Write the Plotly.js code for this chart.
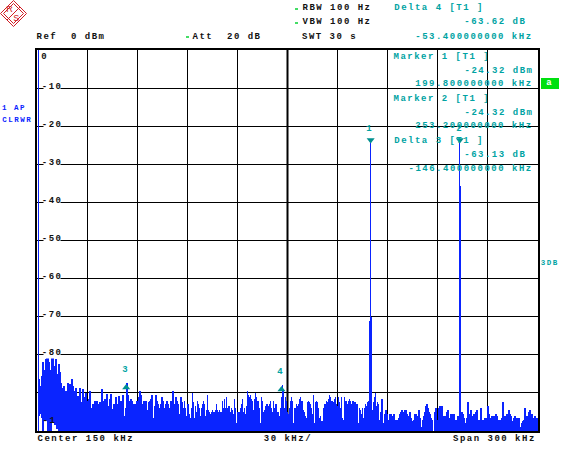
<!DOCTYPE html>
<html><head><meta charset="utf-8">
<script src="https://cdn.plot.ly/plotly-3.0.1.min.js"></script>
<style>
html,body{margin:0;padding:0;background:#fff}
.annotation text{letter-spacing:1.5px}
.bars path{shape-rendering:crispEdges}
</style></head><body><div id="chart" style="width:566px;height:451px"></div>
<script>
const sweepA=[0,-86.4,-89,-88.2,-85.5,-82,-84,-85,-81,-79.5,-79.5,-82,-84,-84,-80,-80.5,-83,-83.5,-81,-85,-87.3,-82.5,-84.5,-87.3,-88.6,-89.5,-88.2,-89.9,-89.5,-90.8,-87.3,-89.9,-87.7,-90.8,-86.4,-88.2,-89.5,-90.8,-88.6,-91.2,-90.8,-92.1,-88.6,-92.5,-93.9,-89,-91.2,-95.2,-89.9,-95.2,-92.1,-91.7,-89.5,-93.9,-95.6,-93,-93.4,-92.1,-93.4,-92.1,-93,-93.4,-92.5,-93,-89,-92.1,-93.9,-91.7,-94.3,-90.4,-93.4,-93.9,-91.7,-90.4,-94.3,-95.2,-93,-93,-91.2,-93,-93,-90.8,-93,-92.1];
const sweepB=[-93,-90.5,-96,-97.5,-94,-87.5,-90.5,-92,-94,-91.5,-92,-93.5,-93,-94,-93,-92,-92,-91,-89.5,-90.5,-93,-94,-92,-92,-92,-94.5,-96,-92.5,-92,-91.5,-90.5,-96.5,-97,-93.5,-90.5,-92,-93,-94,-94,-93,-91,-92,-94,-95,-93,-92,-93,-94,-94,-92,-92,-89.5,-93,-96.5,-91,-92,-93,-95.5,-97,-91,-92.5,-94,-92,-94,-96,-93,-93,-95.5,-96.5,-94,-90,-92.5,-96.5,-93.5,-95,-92,-93,-94,-96,-94,-93,-92,-93,-96];
const sweepC=[-94.5,-90.5,-94.5,-95,-95.5,-95,-94.5,-95,-95,-94.5,-93,-94.5,-95,-94.5,-95,-95,-92,-94,-91.5,-94,-91,-94,-93.5,-93.5,-95,-94,-94.5,-95.5,-91.5,-94,-98,-95,-95,-95,-94,-93,-91.5,-95,-94,-95.5,-93.5,-89.5,-90.5,-91,-90.5,-91.5,-92,-94.5,-91.5,-90,-91,-92,-92,-94,-98,-91,-92,-95,-94.5,-93.5,-93,-93,-93.5,-93,-92,-94,-95,-92,-94,-93,-93,-95,-95,-96,-94,-91,-88,-89.5,-94,-91,-92,-95,-95.5,-94,-92];
const sweepD=[-91,-92,-98,-94,-94,-93,-93.5,-93,-91.5,-91,-92,-92,-94.5,-95,-96,-96.5,-92.5,-92,-92.5,-93,-94,-95.5,-90.5,-98,-92.5,-92,-92.5,-94,-96.5,-96,-97.5,-97.5,-94,-93,-93,-92,-92.5,-91.5,-90.5,-91,-92,-92,-92.5,-91.5,-91,-93,-93.5,-91,-92.5,-94,-91,-96.5,-97,-91,-92,-92,-93,-92,-91.5,-92,-93,-92,-92,-92.5,-92.5,-93,-93,-98,-94,-94.5,-95.5,-94,-96.5,-94,-93,-93.5,-92.5,-92,-95,-94,-92.5,-94.5,-92.5,-91,-90];
const sweepE=[-93.5,-92.5,-93,-97,-95,-91.5,-91.5,-98,-95.5,-94.5,-94.5,-95.5,-97,-95.5,-95.5,-97,-96,-95.5,-97,-98,-97,-97,-96.5,-95.5,-95,-94.5,-95,-95.5,-94.5,-94.5,-95.5,-96,-96.5,-95,-96.5,-97.5,-99,-97,-95.5,-95.5,-96,-99,-94.5,-96.5,-99,-100,-97,-96,-95,-93.5,-93,-94,-95,-95.5,-96.5,-97,-100,-100,-95,-94,-97,-97,-94,-93.5,-97.5,-93.5,-96,-96.5,-96,-96.5,-95,-94.5,-97,-96.5,-95.5,-96,-95.5,-95.5,-97.5,-97,-97,-96,-96.5,-96,-97];
const sweepF=[-95,-95.5,-96.5,-99,-98,-96.5,-92.5,-95.5,-96.5,-94.5,-96,-96,-95.5,-95.5,-95,-94.5,-97,-99,-97,-94,-97,-97,-100,-96.5,-96.5,-97,-93.5,-95.5,-96.5,-97,-96,-97.5,-96,-96.5,-95.5,-96,-97.5,-97,-97,-100,-96.5,-92.5,-96.5,-96,-96,-95.5,-98,-94.5,-95.5,-96,-98,-97.5,-96.5,-96,-100,-96.5,-98,-96.5,-99,-100,-98,-97.5,-97,-94,-96,-97.5,-96,-95,-94.5,-95.5,-95.5,-99,-96.5,-96,-96.5,-96.5,-98,-99];
const sweepFloorHead=[-100,-96,-95.6,-95.6,-96.5,-100,-97.5,-97,-97,-97.5,-100,-98,-100,-100,-98,-98,-98,-98.5,-98.5,-99.5,-99.5];

const carrierFreq=[198.9,199.5,200.1,253.2,253.8];
const carrierTop=[-71,-24.32,-70,-24.32,-35.7];
const carrierFloor=[-100,-95.8,-100,-100,-100];

const markerDownFreq=[199.8,253.2];
const markerDownDb=[-23.6,-23.6];
const markerUpFreq=[53.4,146.4];
const markerUpDb=[-88.6,-89.1];

const yTickLabels=["0","-10","-20","-30","-40","-50","-60","-70","-80"];

const TEAL="#00a3a3", BLUE="#0a24ff", DARK="#111111";
const sweep=[].concat(sweepA,sweepB,sweepC,sweepD,sweepE,sweepF);
const floor=sweep.map((v,i)=>i<sweepFloorHead.length?sweepFloorHead[i]:-100);

const L=37,R=538,T=50,B=431;
const px=x=>(x-L)/(R-L), py=y=>(B-y)/(B-T);
const label=(text,x,y,color,size,advance)=>{
  const s=size||9, a=advance||6.9;
  return {text:text.replace(/ /g,"\u00a0"),xref:"paper",yref:"paper",x:px(x+text.length*a/2),y:py(y),
  xanchor:"center",yanchor:"middle",showarrow:false,borderpad:0,
  font:{family:"Liberation Mono",size:s,color:color,weight:700}};
};

const annotations=[
  label("Ref  0 dBm",37,36.5,DARK),label("Att  20 dB",193,36.5,DARK),
  label("RBW 100 Hz",302,8.5,DARK),label("VBW 100 Hz",302,22.5,DARK),label("SWT 30 s",302,36.5,DARK),
  label("Delta 4 [T1 ]",394,8.5,TEAL),label("-63.62 dB",464.5,22.5,TEAL),label("-53.400000000 kHz",415.5,36.5,TEAL),
  label("Marker 1 [T1 ]",394,56.5,TEAL),label("-24.32 dBm",464.5,70.5,TEAL),label("199.800000000 kHz",415.5,84.5,TEAL),
  label("Marker 2 [T1 ]",394,98.5,TEAL),label("-24.32 dBm",464.5,112.5,TEAL),label("253.200000000 kHz",415.5,126.5,TEAL),
  label("Delta 3 [T1 ]",394,140.5,TEAL),label("-63.13 dB",464.5,154.5,TEAL),label("-146.400000000 kHz",408,168.5,TEAL),
  label("1 AP",2,107.5,BLUE,7.5,6),label("CLRWR",2,119.5,BLUE,7.5,6),
  label("3DB",541,263,TEAL,7.5,6),label("a",547,83,"#ffffff",9),
  label("Center 150 kHz",38,438.5,DARK),label("30 kHz/",264,438.5,DARK),label("Span 300 kHz",453,438.5,DARK),
  label("1",367,129,TEAL),label("2",456,129,TEAL),label("3",122.5,369.5,TEAL),label("4",277.5,371.5,TEAL),
  label("-1",43,421,DARK)
];
yTickLabels.forEach((t,i)=>{
  const a=label(t,t==="0"?42:43,i===0?56.5:50+38.1*i-1.5,DARK,9,5.8);
  a.bgcolor="#ffffff";annotations.push(a);
});

const rect=(x0,y0,x1,y1,color,layer)=>({type:"rect",xref:"paper",yref:"paper",x0:px(x0),x1:px(x1),y0:py(y0),y1:py(y1),fillcolor:color,line:{width:0},layer:layer||"above"});
const seg=(x0,y0,x1,y1,color,w,layer)=>({type:"line",xref:"paper",yref:"paper",x0:px(x0),x1:px(x1),y0:py(y0),y1:py(y1),line:{color:color,width:w},layer:layer||"above"});
const RED="#d01c24";
const diamond=(c,d)=>[seg(c[0]-d,c[1],c[0],c[1]-d,RED,1),seg(c[0],c[1]-d,c[0]+d,c[1],RED,1),seg(c[0]+d,c[1],c[0],c[1]+d,RED,1),seg(c[0],c[1]+d,c[0]-d,c[1],RED,1)];
const shapes=[
  {type:"line",xref:"x",yref:"paper",x0:150,x1:150,y0:0,y1:1,line:{color:"#000",width:2},layer:"below"},
  rect(541,78,559,89,"#00e010"),
  rect(295,8,298,10,"#44dd66"),rect(295,22,298,24,"#44dd66"),rect(186,36,189,38,"#44dd66"),
  ...diamond([13.5,13.5],13),...diamond([13.5,13.5],10),
  seg(7,20,20,7,RED,1)
];
const logoR=label("R",7.5,9.5,RED,9,5.5), logoS=label("S",14,18,RED,9,5.5);
logoR.font.family=logoS.font.family="Liberation Sans";logoR.font.weight=logoS.font.weight=400;
annotations.push(logoR,logoS);

const data=[
  {type:"bar",x0:0.6,dx:0.6,width:sweep.map((v,i)=>i===0?0.6:0.95),y:sweep.map((v,i)=>v-floor[i]),base:floor,marker:{color:BLUE,line:{width:0}},hoverinfo:"skip"},
  {type:"bar",x:carrierFreq,y:carrierTop.map((v,i)=>v-carrierFloor[i]),base:carrierFloor,width:0.6,marker:{color:BLUE,line:{width:0}},hoverinfo:"skip"},
  {type:"scatter",mode:"markers",x:markerDownFreq,y:markerDownDb,marker:{symbol:"triangle-down",size:7,color:"#00908f"},hoverinfo:"skip"},
  {type:"scatter",mode:"markers",x:markerUpFreq,y:markerUpDb,marker:{symbol:"triangle-up",size:7,color:"#00908f"},hoverinfo:"skip"}
];
const layout={width:566,height:451,margin:{l:L,r:566-R,t:T,b:451-B,pad:0},paper_bgcolor:"#fff",plot_bgcolor:"#fff",
  showlegend:false,barmode:"overlay",bargap:0,
  xaxis:{range:[0,300],dtick:30,tick0:0,showticklabels:false,ticks:"",gridcolor:"#000",gridwidth:1,zeroline:false,showline:true,linecolor:"#000",linewidth:2,mirror:true},
  yaxis:{range:[-100,0],dtick:10,tick0:0,showticklabels:false,ticks:"",gridcolor:"#000",gridwidth:1,zeroline:false,showline:true,linecolor:"#000",linewidth:2,mirror:true},
  annotations:annotations,shapes:shapes};
Plotly.newPlot("chart",data,layout,{staticPlot:true,displayModeBar:false});
</script></body></html>
